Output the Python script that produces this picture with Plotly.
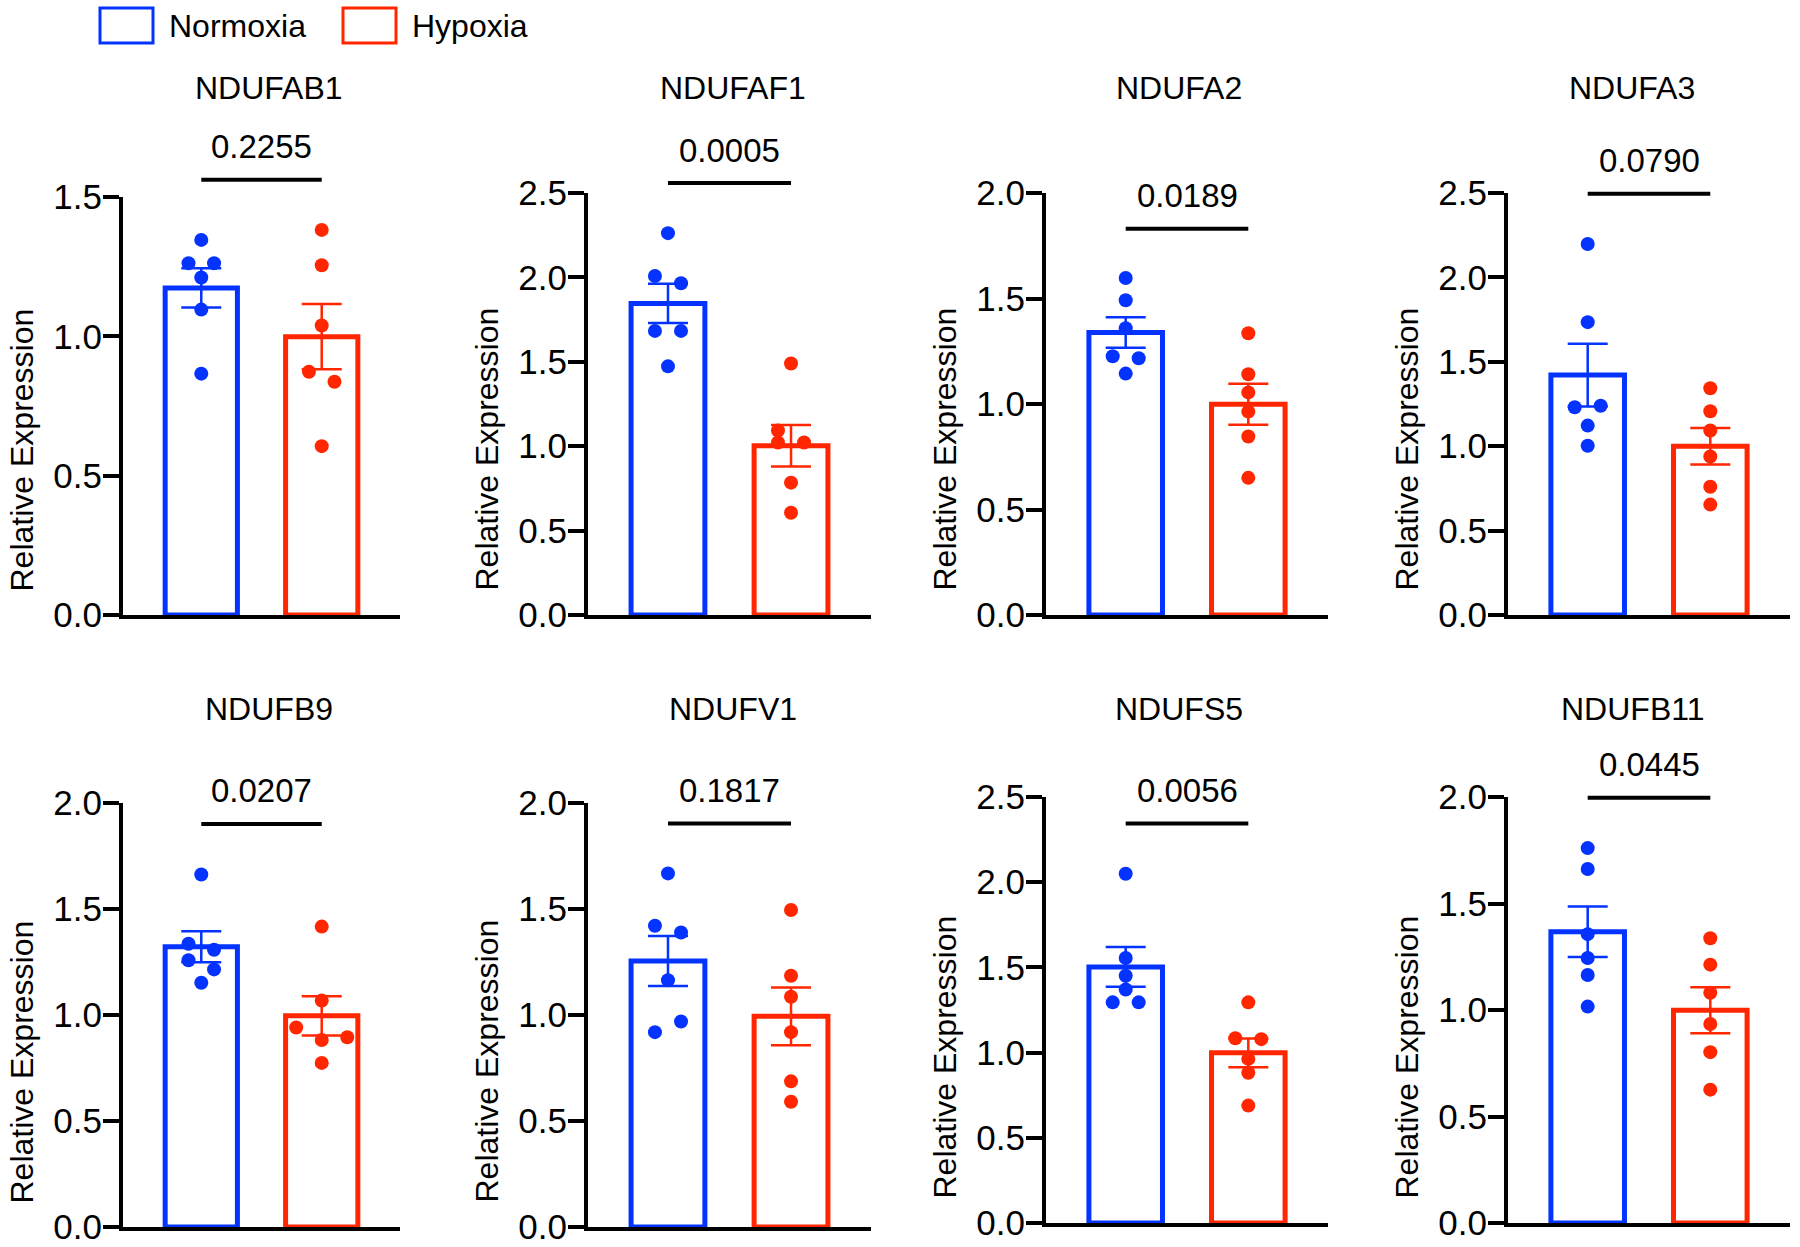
import numpy as np
import plotly.graph_objects as go
from plotly.subplots import make_subplots

# ---- data ----
genes = ["NDUFAB1", "NDUFAF1", "NDUFA2", "NDUFA3", "NDUFB9", "NDUFV1", "NDUFS5", "NDUFB11"]
p_values = ["0.2255", "0.0005", "0.0189", "0.0790", "0.0207", "0.1817", "0.0056", "0.0445"]
y_max = [1.5, 2.5, 2.0, 2.5, 2.0, 2.0, 2.5, 2.0]

normoxia = [
    [1.346, 1.262, 1.262, 1.211, 1.096, 0.866],
    [2.262, 2.008, 1.965, 1.683, 1.683, 1.473],
    [1.597, 1.492, 1.359, 1.226, 1.217, 1.144],
    [2.198, 1.735, 1.231, 1.240, 1.122, 1.003],
    [1.663, 1.336, 1.308, 1.258, 1.215, 1.152],
    [1.668, 1.421, 1.389, 1.164, 0.969, 0.919],
    [2.050, 1.555, 1.451, 1.370, 1.295, 1.295],
    [1.760, 1.662, 1.356, 1.244, 1.164, 1.016],
]
hypoxia = [
    [1.382, 1.255, 1.039, 0.873, 0.837, 0.606],
    [1.490, 1.093, 1.022, 1.022, 0.784, 0.606],
    [1.335, 1.141, 1.055, 0.964, 0.846, 0.650],
    [1.343, 1.207, 1.093, 0.939, 0.760, 0.654],
    [1.417, 1.068, 0.941, 0.895, 0.882, 0.774],
    [1.495, 1.185, 1.086, 0.919, 0.687, 0.591],
    [1.295, 1.084, 1.079, 0.963, 0.882, 0.689],
    [1.337, 1.213, 1.081, 0.934, 0.802, 0.626],
]
# sideways nudge of overlapping dots (in half dot widths)
normoxia_jit = [
    [0, -1, 1, 0, 0, 0],
    [0, -1, 1, -1, 1, 0],
    [0, 0, 0, -1, 1, 0],
    [0, 0, -1, 1, 0, 0],
    [0, -1, 1, -1, 1, 0],
    [0, -1, 1, 0, 1, -1],
    [0, 0, 0, 0, -1, 1],
    [0, 0, 0, 0, 0, 0],
]
hypoxia_jit = [
    [0, 0, 0, -1, 1, 0],
    [0, -1, -1, 1, 0, 0],
    [0, 0, 0, 0, 0, 0],
    [0, 0, 0, 0, 0, 0],
    [0, 0, -2, 2, 0, 0],
    [0, 0, 0, 0, 0, 0],
    [0, -1, 1, 0, 0, 0],
    [0, 0, 0, 0, 0, 0],
]
bracket_y = [1.562, 2.559, 1.831, 2.495, 1.901, 1.903, 2.344, 1.996]

# ---- layout (pixels) ----
W, H = 1800, 1247
BLUE, RED = "#0433FF", "#FF2600"
FONT = "Arial, Liberation Sans, sans-serif"
ax_left = [123, 588, 1046, 1508] * 2
ax_right = [400, 871, 1328, 1790] * 2
ax_top = [197, 193, 193, 193, 803, 803, 797, 797]
ax_bottom = [615, 615, 615, 615, 1227, 1227, 1223, 1223]
title_x = [269, 733, 1179, 1632] * 2
title_y = [88] * 4 + [709] * 4
X_RANGE = [-0.65, 1.65]
JIT = 0.106

fig = make_subplots(rows=2, cols=4)

for i in range(8):
    n = i + 1
    xa = "x" if n == 1 else f"x{n}"
    ya = "y" if n == 1 else f"y{n}"
    for k, (vals, jit, col) in enumerate([(normoxia[i], normoxia_jit[i], BLUE),
                                          (hypoxia[i], hypoxia_jit[i], RED)]):
        v = np.array(vals)
        mean = v.mean()
        sem = v.std(ddof=1) / np.sqrt(len(v))
        fig.add_trace(go.Bar(x=[k], y=[mean], width=0.6,
                             marker=dict(color="white", line=dict(color=col, width=5)),
                             error_y=dict(type="data", array=[sem], color=col, thickness=2.5, width=20),
                             xaxis=xa, yaxis=ya, showlegend=False, hoverinfo="skip"))
        fig.add_trace(go.Scatter(x=k + JIT * np.array(jit), y=v, mode="markers",
                                 marker=dict(color=col, size=14), cliponaxis=False,
                                 xaxis=xa, yaxis=ya, showlegend=False))

    xname = "xaxis" if n == 1 else f"xaxis{n}"
    yname = "yaxis" if n == 1 else f"yaxis{n}"
    fig.update_layout(**{
        xname: dict(domain=[ax_left[i] / W, ax_right[i] / W], range=X_RANGE,
                    showline=True, linewidth=4, linecolor="black", showticklabels=False,
                    ticks="", showgrid=False, zeroline=False, fixedrange=True, automargin=False),
        yname: dict(domain=[1 - ax_bottom[i] / H, 1 - ax_top[i] / H], range=[0, y_max[i]],
                    dtick=0.5, tickformat=".1f", showline=True, linewidth=4, linecolor="black",
                    ticks="outside", ticklen=16, tickwidth=4, tickcolor="black",
                    ticklabelstandoff=-6,
                    tickfont=dict(size=35, color="black", family=FONT),
                    showgrid=False, zeroline=False, fixedrange=True, automargin=False),
    })

    # significance bracket + p value
    span = X_RANGE[1] - X_RANGE[0]
    fig.add_shape(type="line", xref=f"{xa} domain", yref=f"{ya} domain",
                  x0=(0 - X_RANGE[0]) / span, x1=(1 - X_RANGE[0]) / span,
                  y0=bracket_y[i] / y_max[i], y1=bracket_y[i] / y_max[i],
                  line=dict(color="black", width=4))
    fig.add_annotation(xref=f"{xa} domain", yref=f"{ya} domain",
                       x=(0.5 - X_RANGE[0]) / span, y=bracket_y[i] / y_max[i], yshift=33,
                       text=p_values[i], showarrow=False, yanchor="middle",
                       font=dict(size=33, color="black", family=FONT))
    # panel title
    fig.add_annotation(xref="paper", yref="paper", x=title_x[i] / W, y=1 - title_y[i] / H,
                       text=genes[i], showarrow=False, xanchor="center", yanchor="middle",
                       font=dict(size=32, color="black", family=FONT))
    # y axis title
    fig.add_annotation(xref=f"{xa} domain", yref=f"{ya} domain", x=0, y=0,
                       xshift=-102, yshift=22, xanchor="center", yanchor="bottom",
                       textangle=-90, text="Relative Expression", showarrow=False,
                       font=dict(size=32, color="black", family=FONT))

# legend drawn by hand (open boxes)
for (x0, label, col) in [(100, "Normoxia", BLUE), (343, "Hypoxia", RED)]:
    fig.add_shape(type="rect", xref="paper", yref="paper",
                  x0=x0 / W, x1=(x0 + 53) / W, y0=1 - 43 / H, y1=1 - 8 / H,
                  line=dict(color=col, width=3), fillcolor="white")
    fig.add_annotation(xref="paper", yref="paper", x=(x0 + 67) / W, y=1 - 26 / H,
                       text=label, showarrow=False, xanchor="left", yanchor="middle",
                       font=dict(size=32, color="black", family=FONT))

fig.update_layout(width=W, height=H, margin=dict(l=0, r=0, t=0, b=0),
                  plot_bgcolor="white", paper_bgcolor="white", barmode="overlay",
                  font=dict(family=FONT, color="black"))

# drop the default page margin so the figure fills the window exactly
fig.write_html("out.html", config={"displayModeBar": False},
               post_script="document.body.style.margin='0';")
